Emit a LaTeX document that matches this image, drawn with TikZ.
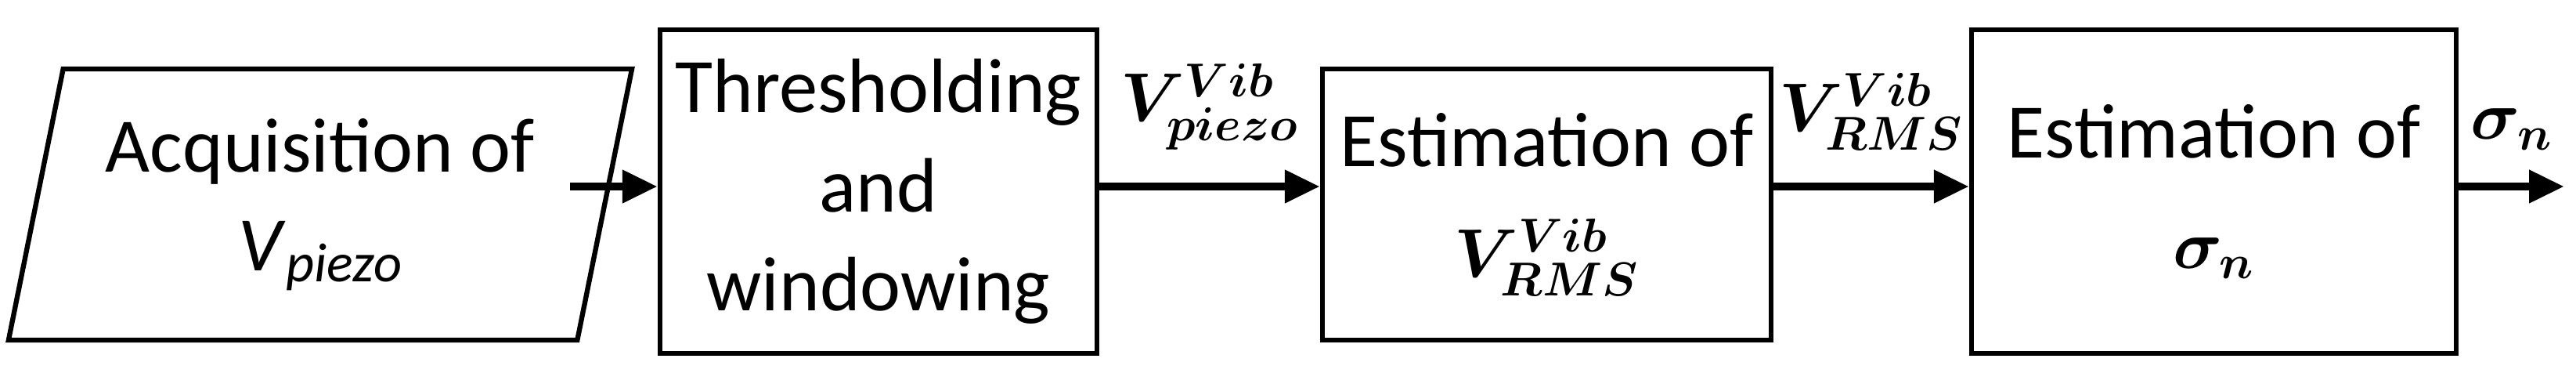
\documentclass[tikz,border=0pt]{standalone}
\usepackage{amsmath,bm}
\usepackage{fontspec}
\setmainfont{Carlito}
\usetikzlibrary{shapes.geometric,arrows.meta}
\begin{document}
\begin{tikzpicture}[
    block/.style={draw, line width=1.8pt, align=center, font=\fontsize{28}{36}\selectfont},
    flow/.style={line width=3pt, -{Triangle[length=0.45cm,width=0.4cm]}},
    lbl/.style={font=\fontsize{25}{30}\selectfont, anchor=south}]

    \useasboundingbox (0,0) rectangle (32.9,4.75);

    % input
    \node[block, trapezium, trapezium left angle=76, trapezium right angle=104,
          trapezium stretches=true, minimum width=7.97cm, minimum height=3.46cm]
          (acq) at (4.09,2.14) {Acquisition of\\ \textit{V}\raisebox{-0.3ex}{\fontsize{20}{24}\selectfont\textit{piezo}}};

    % processing blocks
    \node[block, minimum width=5.58cm, minimum height=4.13cm] (thr) at (11.22,2.305)
          {Thresholding\\ and\\ windowing};
    \node[block, minimum width=5.73cm, minimum height=3.46cm] (rms) at (19.755,2.138)
          {Estimation of\\[4pt] \fontsize{25}{30}\selectfont$\bm{V^{Vib}_{RMS}}$};
    \node[block, minimum width=6.19cm, minimum height=4.13cm] (sig) at (28.275,2.305)
          {Estimation of\\[4pt] \fontsize{25}{30}\selectfont$\bm{\sigma_n}$};
    \coordinate (out) at (32.75,2.37);
    \coordinate (acqout) at (7.28,2.37);

    \draw[flow] (acqout) -- (thr.west |- out);
    \draw[flow] (thr.east |- out) -- (rms.west |- out) node[lbl, midway, above=0.3cm] {$\bm{V^{Vib}_{piezo}}$};
    \draw[flow] (rms.east |- out) -- (sig.west |- out) node[lbl, midway, above=0.3cm] {$\bm{V^{Vib}_{RMS}}$};
    \draw[flow] (sig.east |- out) -- (out) node[lbl, pos=0.5, above=0.3cm] {$\bm{\sigma_n}$};
\end{tikzpicture}
\end{document}
